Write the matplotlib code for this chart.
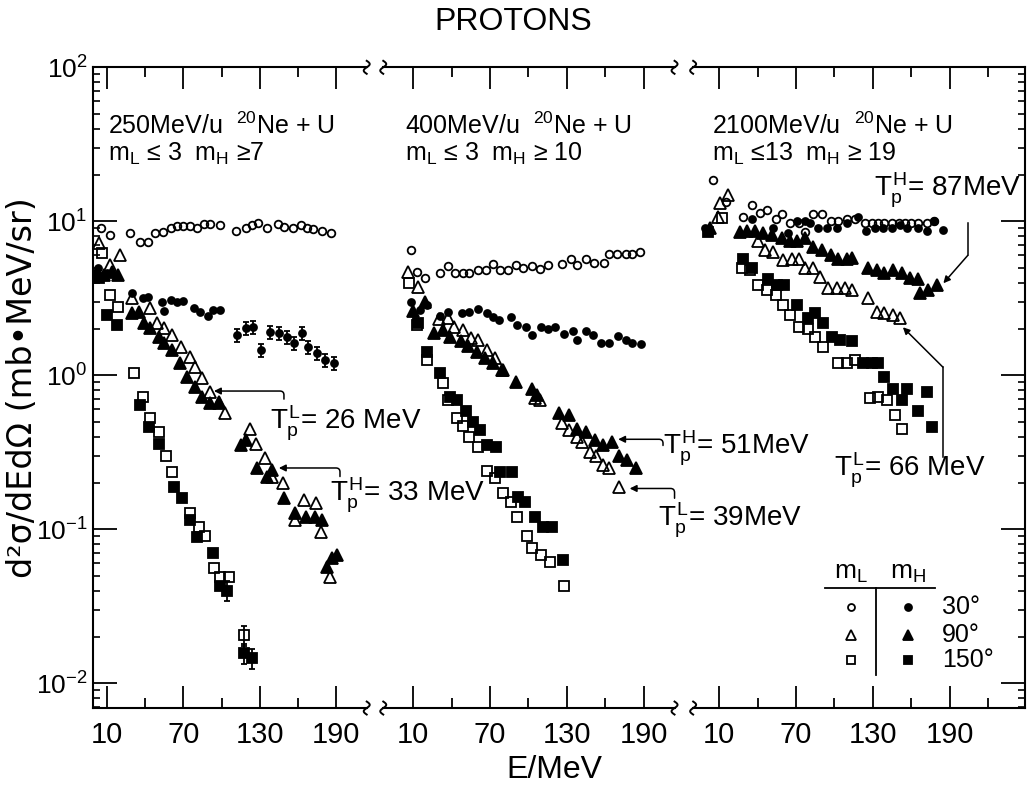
import numpy as np
import matplotlib
matplotlib.use("Agg")
import matplotlib.pyplot as plt
import matplotlib.transforms as mtransforms

plt.rcParams['font.family'] = ['Liberation Sans', 'DejaVu Sans']
plt.rcParams['mathtext.fontset'] = 'custom'
plt.rcParams['mathtext.rm'] = 'Liberation Sans'
plt.rcParams['mathtext.it'] = 'Liberation Sans'
plt.rcParams['mathtext.bf'] = 'Liberation Sans:bold'

# ---- 250 MeV/u panel ----
oc250_e = [5, 12, 28, 36, 42, 48, 54, 60, 65, 70, 75, 81, 86, 91, 99, 111, 119, 124, 129, 136, 144, 149, 156, 162, 167, 172, 179, 186]
oc250_v = [9.0, 8.1, 8.4, 7.3, 7.3, 8.4, 8.5, 9.1, 9.3, 9.3, 9.3, 9.1, 9.6, 9.6, 9.5, 8.7, 9.1, 9.4, 9.8, 9.1, 9.6, 9.2, 9.1, 9.4, 9.1, 8.9, 8.7, 8.4]
fc250_e = [3, 10, 30, 38, 42, 53, 55, 60, 65, 70, 78, 83, 89, 93, 99]
fc250_v = [5.0, 4.6, 3.4, 3.16, 3.2, 3.0, 2.6, 3.1, 2.98, 3.05, 2.72, 2.57, 2.42, 2.64, 2.64]
fce250_e = [112, 119, 125, 131, 138, 145, 151, 157, 163, 168, 175, 181, 188]
fce250_v = [1.82, 2.02, 2.05, 1.45, 1.90, 1.87, 1.77, 1.61, 1.87, 1.52, 1.39, 1.25, 1.20]
ot250_e = [4, 12, 20, 30, 44, 49, 55, 61, 68, 75, 79, 85, 91, 98, 103, 122, 127, 134, 140, 148, 158, 165, 174, 178, 185]
ot250_v = [7.2, 5.2, 6.0, 3.16, 2.72, 2.18, 2.02, 1.82, 1.52, 1.31, 1.13, 0.96, 0.78, 0.67, 0.57, 0.45, 0.36, 0.29, 0.218, 0.199, 0.114, 0.154, 0.148, 0.096, 0.049]
ft250_e = [2, 8, 14, 19, 30, 35, 39, 44, 51, 55, 61, 67, 73, 79, 85, 91, 98, 115, 119, 128, 136, 140, 149, 158, 166, 173, 179, 183, 187, 191]
ft250_v = [4.67, 4.5, 4.67, 4.5, 2.53, 2.57, 2.18, 2.02, 1.77, 1.61, 1.45, 1.20, 0.97, 0.84, 0.72, 0.66, 0.66, 0.35, 0.38, 0.249, 0.218, 0.242, 0.159, 0.127, 0.120, 0.120, 0.114, 0.057, 0.065, 0.068]
os250_e = [6, 12, 19, 31, 38, 44, 51, 56, 61, 75, 82, 87, 94, 99, 106]
os250_v = [6.2, 3.3, 2.77, 1.03, 0.72, 0.53, 0.43, 0.30, 0.235, 0.127, 0.103, 0.091, 0.056, 0.049, 0.049]
ose250_e = [118]
ose250_v = [0.0205]
fs250_e = [4, 10, 18, 36, 43, 51, 63, 69, 75, 81, 93, 99]
fs250_v = [4.3, 2.45, 2.11, 0.64, 0.46, 0.36, 0.187, 0.159, 0.114, 0.089, 0.070, 0.043]
fse250_e = [104, 118, 124]
fse250_v = [0.040, 0.0157, 0.0145]

# ---- 400 MeV/u panel ----
oc400_e = [8, 13, 19, 31, 37, 43, 49, 54, 61, 67, 72, 78, 84, 90, 96, 103, 109, 115, 126, 133, 138, 145, 151, 159, 163, 169, 176, 181, 187]
oc400_v = [6.5, 4.7, 4.3, 4.6, 5.1, 4.6, 4.6, 4.6, 4.8, 4.8, 5.3, 4.8, 4.8, 5.2, 5.0, 5.1, 4.9, 5.2, 5.3, 5.7, 5.2, 5.7, 5.4, 5.4, 6.1, 6.1, 6.1, 6.1, 6.3]
fc400_e = [8, 15, 21, 31, 37, 48, 54, 61, 68, 72, 77, 86, 91, 98, 103, 110, 115, 121, 128, 135, 138, 145, 150, 157, 163, 170, 176, 181, 188]
fc400_v = [2.98, 2.64, 2.85, 2.42, 2.57, 2.53, 2.57, 2.69, 2.53, 2.38, 2.28, 2.38, 2.11, 2.05, 1.82, 2.05, 2.0, 2.07, 1.85, 1.94, 1.69, 1.94, 1.82, 1.61, 1.61, 1.79, 1.69, 1.61, 1.60]
ot400_e = [6, 14, 30, 37, 42, 49, 55, 61, 68, 74, 80, 105, 109, 126, 132, 138, 142, 148, 153, 158, 163, 171]
ot400_v = [4.67, 3.73, 2.31, 2.34, 2.05, 1.96, 1.74, 1.69, 1.45, 1.29, 1.08, 0.71, 0.69, 0.49, 0.44, 0.395, 0.37, 0.316, 0.30, 0.26, 0.25, 0.187]
ft400_e = [10, 19, 26, 33, 39, 47, 53, 60, 66, 72, 79, 90, 103, 107, 124, 132, 138, 145, 152, 158, 165, 171, 177, 184]
ft400_v = [2.6, 2.98, 1.87, 1.96, 1.77, 1.66, 1.54, 1.41, 1.29, 1.20, 1.08, 0.90, 0.82, 0.75, 0.57, 0.55, 0.45, 0.43, 0.38, 0.35, 0.37, 0.30, 0.28, 0.25]
os400_e = [7, 13, 21, 33, 37, 44, 49, 54, 61, 68, 74, 80, 86, 91, 99, 103, 110, 117, 128]
os400_v = [3.96, 2.11, 1.25, 0.89, 0.69, 0.53, 0.47, 0.395, 0.34, 0.24, 0.214, 0.171, 0.150, 0.120, 0.091, 0.075, 0.068, 0.061, 0.043]
fs400_e = [14, 21, 31, 39, 44, 51, 57, 62, 68, 75, 78, 87, 92, 97, 105, 111, 118, 127]
fs400_v = [2.18, 1.41, 1.03, 0.72, 0.69, 0.59, 0.50, 0.44, 0.35, 0.34, 0.235, 0.235, 0.163, 0.15, 0.12, 0.103, 0.103, 0.063]

# ---- 2100 MeV/u panel ----
oc2100_e = [5, 15, 29, 36, 42, 47, 54, 59, 65, 72, 77, 83, 90, 97, 103, 110, 116, 124, 129, 134, 139, 145, 150, 155, 160, 165, 172, 178]
oc2100_v = [18.5, 13.3, 10.6, 12.7, 11.4, 11.9, 10.3, 11.2, 9.7, 9.7, 8.5, 11.2, 11.2, 10.1, 10.1, 10.4, 10.4, 9.7, 9.8, 9.8, 9.8, 9.8, 9.8, 9.8, 9.8, 9.7, 9.8, 10.1]
fc2100_e = [-1, 36, 52, 64, 71, 77, 81, 87, 94, 102, 110, 118, 125, 132, 138, 145, 151, 157, 165, 172, 178, 185]
fc2100_v = [9.0, 10.3, 9.0, 8.4, 10.1, 10.1, 9.7, 9.1, 9.1, 9.1, 9.7, 10.6, 8.7, 9.1, 9.0, 9.1, 9.4, 9.1, 9.1, 8.7, 10.1, 8.8]
ot2100_e = [9, 11, 17, 40, 46, 52, 60, 67, 72, 77, 83, 89, 95, 102, 108, 114, 126, 133, 139, 146, 151]
ot2100_v = [10.6, 13.1, 14.8, 7.5, 6.5, 6.3, 5.6, 5.7, 5.7, 4.96, 4.96, 4.33, 3.67, 3.67, 3.67, 3.56, 3.16, 2.57, 2.53, 2.45, 2.37]
ft2100_e = [3, 26, 32, 38, 44, 51, 59, 65, 71, 77, 83, 90, 97, 103, 110, 114, 126, 133, 139, 146, 153, 159, 165, 167, 173, 180]
ft2100_v = [9.0, 8.5, 8.7, 8.7, 8.4, 8.1, 7.8, 7.5, 7.5, 7.8, 6.8, 6.5, 6.0, 5.7, 5.7, 5.8, 5.0, 4.8, 4.6, 4.8, 4.6, 4.3, 4.2, 3.4, 3.56, 3.84]
os2100_e = [12, 28, 34, 40, 47, 54, 60, 65, 72, 79, 85, 91, 103, 110, 116, 128, 134, 141, 147, 153]
os2100_v = [10.5, 5.0, 4.8, 3.84, 3.56, 3.3, 2.85, 2.45, 2.05, 2.0, 1.77, 1.52, 1.20, 1.20, 1.25, 0.71, 0.72, 0.69, 0.55, 0.45]
fs2100_e = [1, 29, 36, 48, 55, 61, 71, 79, 85, 91, 98, 104, 114, 122, 129, 134, 139, 146, 153, 157, 165, 172, 176]
fs2100_v = [8.5, 5.7, 5.0, 4.2, 3.84, 3.84, 2.85, 2.37, 2.53, 2.18, 1.77, 1.69, 1.66, 1.21, 1.21, 1.21, 0.97, 0.82, 0.69, 0.82, 0.59, 0.78, 0.46]

# marker styles: (marker, size)
STY = {'c': ('o', 5.5), 't': ('^', 9), 's': ('s', 7)}
EW = 1.3


def draw(ax, kind, filled, e, v):
    m, ms = STY[kind]
    if filled:
        ax.plot(e, v, ls='none', marker=m, ms=ms - 0.5, mfc='black', mec='black', mew=EW)
    else:
        ax.plot(e, v, ls='none', marker=m, ms=ms, mfc='none', mec='black', mew=EW)


def draw_err(ax, kind, filled, e, v, rel=0.12):
    m, ms = STY[kind]
    v = np.array(v)
    ax.errorbar(e, v, yerr=[v * rel, v * rel], fmt=m, ms=ms - 0.5,
                mfc='black' if filled else 'none', mec='black', mew=EW,
                ecolor='black', elinewidth=1.3, capsize=2.5, capthick=1.3)


def brk(ax, xa, ya):
    # little squiggle marking an axis break
    t = np.linspace(-1, 1, 30)
    tr = ax.figure.dpi_scale_trans + mtransforms.ScaledTranslation(xa, ya, ax.transAxes)
    ax.plot(0.03 * np.sin(np.pi * t), 0.065 * t, color='black', lw=1.4,
            transform=tr, clip_on=False)


fig = plt.figure(figsize=(10.33, 7.92), dpi=100)
ax1 = fig.add_axes([0.090, 0.106, 0.265, 0.809])
ax2 = fig.add_axes([0.371, 0.106, 0.282, 0.809], sharey=ax1)
ax3 = fig.add_axes([0.671, 0.106, 0.321, 0.809], sharey=ax1)
for ax in (ax1, ax2, ax3):
    ax.patch.set_visible(False)

ax1.set_yscale('log')
ax1.set_ylim(0.0069, 100)
ax1.set_xlim(-1, 214)
ax2.set_xlim(-13.3, 214)
ax3.set_xlim(-10.3, 248.5)

# panel 1
draw(ax1, 'c', True, fc250_e, fc250_v)
draw_err(ax1, 'c', True, fce250_e, fce250_v, rel=0.1)
draw(ax1, 't', True, ft250_e, ft250_v)
draw(ax1, 's', True, fs250_e, fs250_v)
draw_err(ax1, 's', True, fse250_e, fse250_v, rel=0.15)
draw(ax1, 'c', False, oc250_e, oc250_v)
draw(ax1, 't', False, ot250_e, ot250_v)
draw(ax1, 's', False, os250_e, os250_v)
draw_err(ax1, 's', False, ose250_e, ose250_v, rel=0.15)

# panel 2
draw(ax2, 'c', True, fc400_e, fc400_v)
draw(ax2, 't', True, ft400_e, ft400_v)
draw(ax2, 's', True, fs400_e, fs400_v)
draw(ax2, 'c', False, oc400_e, oc400_v)
draw(ax2, 't', False, ot400_e, ot400_v)
draw(ax2, 's', False, os400_e, os400_v)

# panel 3
draw(ax3, 'c', True, fc2100_e, fc2100_v)
draw(ax3, 't', True, ft2100_e, ft2100_v)
draw(ax3, 's', True, fs2100_e, fs2100_v)
draw(ax3, 'c', False, oc2100_e, oc2100_v)
draw(ax3, 't', False, ot2100_e, ot2100_v)
draw(ax3, 's', False, os2100_e, os2100_v)

for ax in (ax1, ax2, ax3):
    ax.set_xticks([10, 70, 130, 190])
    ax.set_xticks([40, 100, 160, 220] if ax is ax3 else [40, 100, 160], minor=True)
    ax.tick_params(axis='x', which='major', direction='in', length=16, width=1.3,
                   top=True, labelsize=21, pad=9)
    ax.tick_params(axis='x', which='minor', direction='in', length=7, width=1.3, top=True)
    for s in ax.spines.values():
        s.set_linewidth(1.5)

ax1.tick_params(axis='y', which='major', direction='in', length=17, width=1.3,
                labelsize=19, pad=4, right=False)
ax1.tick_params(axis='y', which='minor', direction='in', length=5, width=1.2, right=False)
ax2.tick_params(axis='y', which='both', left=False, right=False, labelleft=False)
ax3.tick_params(axis='y', which='major', direction='in', length=17, width=1.3,
                left=False, right=True, labelleft=False)
ax3.tick_params(axis='y', which='minor', direction='in', length=5, width=1.2,
                left=False, right=True)

ax1.spines['right'].set_visible(False)
ax2.spines['left'].set_visible(False)
ax2.spines['right'].set_visible(False)
ax3.spines['left'].set_visible(False)

for ya in (0, 1):
    brk(ax1, 1, ya)
    brk(ax2, 0, ya)
    brk(ax2, 1, ya)
    brk(ax3, 0, ya)

# panel headings
hdr = dict(fontsize=18, ha='left', va='center')
ax1.text(0.055, 0.909, r'250MeV/u  $^{20}$Ne + U', transform=ax1.transAxes, **hdr)
ax1.text(0.055, 0.865, r'm$_L$ ≤ 3  m$_H$ ≥7', transform=ax1.transAxes, **hdr)
ax2.text(0.075, 0.909, r'400MeV/u  $^{20}$Ne + U', transform=ax2.transAxes, **hdr)
ax2.text(0.075, 0.865, r'm$_L$ ≤ 3  m$_H$ ≥ 10', transform=ax2.transAxes, **hdr)
ax3.text(0.057, 0.909, r'2100MeV/u  $^{20}$Ne + U', transform=ax3.transAxes, **hdr)
ax3.text(0.057, 0.865, r'm$_L$ ≤13  m$_H$ ≥ 19', transform=ax3.transAxes, **hdr)

# temperature annotations
ann = dict(fontsize=20, ha='left', va='center')
arw = dict(arrowstyle='-|>', color='black', lw=1.1, mutation_scale=10,
           connectionstyle='angle,angleA=90,angleB=0,rad=4', shrinkA=0, shrinkB=0)
ax1.text(138, 0.49, r'$T_p^L$= 26 MeV', **ann)
ax1.annotate('', xy=(94, 0.79), xytext=(149, 0.70), arrowprops=arw)
ax1.text(185, 0.166, r'$T_p^H$= 33 MeV', **ann)
ax1.annotate('', xy=(145, 0.25), xytext=(193, 0.22), arrowprops=arw)

ax2.text(205, 0.336, r'$T_p^H$= 51MeV', **ann)
ax2.annotate('', xy=(170, 0.384), xytext=(205, 0.35), arrowprops=arw)
ax2.text(201, 0.114, r'$T_p^L$= 39MeV', **ann)
ax2.annotate('', xy=(179, 0.184), xytext=(214, 0.159), arrowprops=arw)

ax3.text(131, 15.9, r'$T_p^H$= 87MeV', **ann)
ax3.plot([204, 204], [9.7, 6.0], color='black', lw=1.1)
ax3.annotate('', xy=(185, 3.96), xytext=(204, 6.0),
             arrowprops=dict(arrowstyle='-|>', color='black', lw=1.1, mutation_scale=10,
                             shrinkA=0, shrinkB=0))
ax3.text(100, 0.242, r'$T_p^L$= 66 MeV', **ann)
ax3.plot([184.6, 184.6], [0.293, 1.13], color='black', lw=1.1)
ax3.annotate('', xy=(153.4, 2.05), xytext=(184.6, 1.13),
             arrowprops=dict(arrowstyle='-|>', color='black', lw=1.1, mutation_scale=10,
                             shrinkA=0, shrinkB=0))

# legend table
T = ax3.transAxes
ax3.text(0.476, 0.211, r'm$_L$', transform=T, fontsize=19, ha='center', va='center')
ax3.text(0.648, 0.211, r'm$_H$', transform=T, fontsize=19, ha='center', va='center')
ax3.plot([0.398, 0.729], [0.187, 0.187], color='black', lw=1.3, transform=T)
ax3.plot([0.551, 0.551], [0.187, 0.051], color='black', lw=1.3, transform=T)
rows = [('o', 5, '30°', 0.158), ('^', 6.5, '90°', 0.114), ('s', 5.5, '150°', 0.075)]
for m, ms, lab, yy in rows:
    ax3.plot([0.476], [yy], marker=m, ms=ms, mfc='none', mec='black', mew=1.3,
             transform=T, ls='none')
    ax3.plot([0.648], [yy], marker=m, ms=ms, mfc='black', mec='black', mew=1.3,
             transform=T, ls='none')
    ax3.text(0.75, yy, lab, transform=T, fontsize=18, ha='left', va='center')

fig.text(0.497, 0.972, 'PROTONS', fontsize=23, ha='center', va='center')
fig.text(0.537, 0.028, 'E/MeV', fontsize=23, ha='center', va='center')
fig.text(0.022, 0.51, 'd²σ/dEdΩ (mb•MeV/sr)', fontsize=24, rotation=90,
         ha='center', va='center', family=['DejaVu Sans'])

fig.savefig('out.png', dpi=100)
